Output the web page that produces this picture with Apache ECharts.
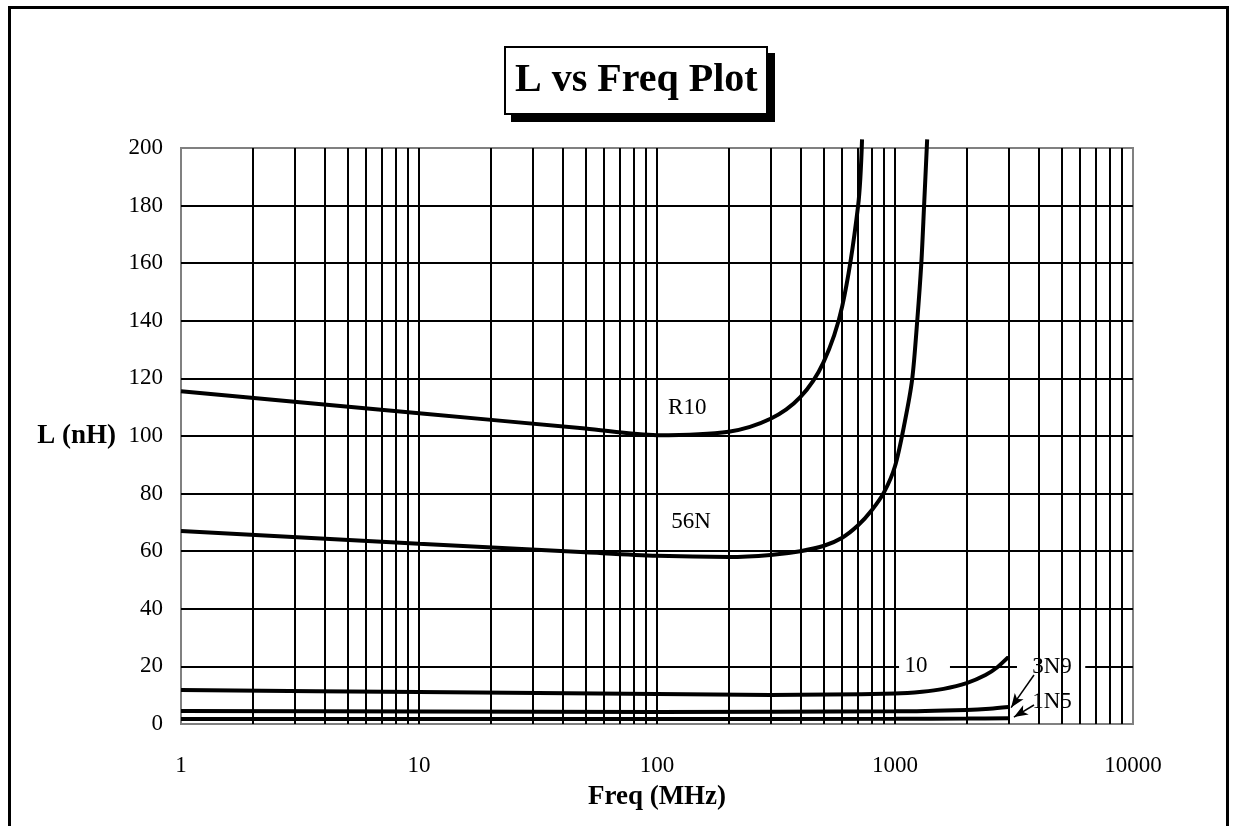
<!DOCTYPE html>
<html>
<head>
<meta charset="utf-8">
<script src="https://cdn.jsdelivr.net/npm/echarts@6/dist/echarts.min.js"></script>
<style>
html,body{margin:0;padding:0;background:#fff;}
#chart{width:1234px;height:826px;}
</style>
</head>
<body>
<div id="chart"></div>
<script>
// ---- data ----
const freqR10 = [1, 10, 50, 100, 200, 300, 400, 500, 600, 700, 727];
const valR10  = [115.5, 107.9, 102.6, 100.3, 101.5, 106, 113.5, 125.5, 145, 180, 203];

const freq56N = [1, 10, 50, 100, 200, 300, 400, 500, 600, 700, 800, 900, 1000, 1100, 1180, 1240, 1290, 1325, 1365];
const val56N  = [67, 62.6, 59.6, 58.4, 58, 58.7, 60, 61.8, 64.7, 69, 74.3, 80.5, 89.5, 105, 119.5, 140, 160, 180, 203];

const freq10 = [1, 10, 100, 300, 1000, 1300, 1600, 2000, 2400, 2700, 3000];
const val10  = [11.8, 11.1, 10.4, 10.1, 10.6, 11.2, 12.2, 14.2, 17, 19.8, 23.3];

const freq3N9 = [1, 10, 100, 1000, 2000, 2500, 3000];
const val3N9  = [4.5, 4.35, 4.2, 4.4, 4.9, 5.3, 5.9];

const freq1N5 = [1, 10, 100, 1000, 2000, 3000];
const val1N5  = [1.7, 1.7, 1.7, 1.8, 1.9, 2.0];

// curve labels: [freq, L, text]
const curveLabels = [[134, 109.7, 'R10'], [139, 70.1, '56N'], [1225, 20.1, '10'], [4570, 19.8, '3N9'], [4570, 7.6, '1N5']];
// arrows: from label to curve end
const arrowFrom = [[3837, 17.0], [3837, 6.6]];
const arrowTo   = [[3075, 5.7], [3160, 2.4]];
// white label boxes [[x1,y1],[x2,y2]]
const labelBoxes = [[[1040, 17.2], [1702, 23.0]], [[3255, 0.6], [6300, 26.4]]];

// axis ticks
const xMin = 1, xMax = 10000;
const yMin = 0, yMax = 200, yStep = 20;
const minorGridX = [2,3,4,5,6,7,8,9, 20,30,40,50,60,70,80,90, 200,300,400,500,600,700,800,900, 2000,3000,4000,5000,6000,7000,8000,9000];

const title = 'L vs Freq Plot';
const xName = 'Freq (MHz)';
const yName = 'L (nH)';

function pairs(xs, ys){ return xs.map((x,i)=>[x, ys[i]]); }

const FONT = 'Liberation Serif';
const chart = echarts.init(document.getElementById('chart'), null, {renderer:'canvas'});

function curve(name, xs, ys){
  return {
    name, type:'line', data: pairs(xs, ys), symbol:'none', clip:false,
    smooth:0.3, z:3, silent:true,
    lineStyle:{color:'#000', width:4}
  };
}

const titleText = {fontFamily:FONT, fontSize:40, fontWeight:'bold', color:'#000', lineHeight:48};
const option = {
  backgroundColor:'#fff',
  animation:false,
  textStyle:{fontFamily:FONT, color:'#000'},
  title:[{
    // drop shadow box
    text:title, left:512, top:54, z:1,
    padding:[10,10,9,10],
    backgroundColor:'#000', borderColor:'#000', borderWidth:2,
    textStyle:Object.assign({}, titleText, {color:'#000'})
  },{
    text:title, left:505, top:47, z:2,
    padding:[10,10,9,10],
    backgroundColor:'#fff', borderColor:'#000', borderWidth:2,
    textStyle:titleText
  }],
  graphic:[{
    type:'rect', left:7, top:5, silent:true,
    shape:{width:1218, height:1000},
    style:{fill:null, stroke:'#000', lineWidth:3}, z:-1
  }],
  grid:{left:181, right:101, top:148, bottom:102, show:true, borderColor:'#808080', borderWidth:2, backgroundColor:'#fff'},
  xAxis:{
    type:'log', logBase:10, min:xMin, max:xMax,
    name:xName, nameLocation:'middle', nameGap:60,
    nameTextStyle:{fontFamily:FONT, fontSize:27, fontWeight:'bold', color:'#000'},
    axisLine:{show:false}, axisTick:{show:false},
    axisLabel:{fontFamily:FONT, fontSize:23, color:'#000', margin:30, formatter:v=>String(Math.round(v))},
    splitLine:{show:true, showMinLine:false, showMaxLine:false, lineStyle:{color:'#000', width:2}}
  },
  yAxis:{
    type:'value', min:yMin, max:yMax, interval:yStep,
    name:yName, nameLocation:'middle', nameRotate:0, nameGap:65,
    nameTextStyle:{fontFamily:FONT, fontSize:27, fontWeight:'bold', color:'#000'},
    axisLine:{show:false}, axisTick:{show:false},
    axisLabel:{fontFamily:FONT, fontSize:23, color:'#000', margin:18},
    splitLine:{show:true, showMinLine:false, showMaxLine:false, lineStyle:{color:'#000', width:2}}
  },
  series:[
    { // minor vertical grid lines
      type:'line', data:[], z:1, silent:true,
      markLine:{silent:true, symbol:['none','none'], label:{show:false},
        lineStyle:{color:'#000', width:2, type:'solid'},
        emphasis:{disabled:true},
        data: minorGridX.map(v=>({xAxis:v}))}
    },
    { // white label boxes
      type:'line', data:[], z:2, silent:true,
      markArea:{silent:true, itemStyle:{color:'#fff', opacity:1},
        emphasis:{disabled:true},
        data: labelBoxes.map(b=>[{coord:b[0]},{coord:b[1]}])}
    },
    curve('R10', freqR10, valR10),
    curve('56N', freq56N, val56N),
    curve('10', freq10, val10),
    curve('3N9', freq3N9, val3N9),
    curve('1N5', freq1N5, val1N5),
    { // arrows
      type:'line', data:[], z:4, silent:true, color:'#000',
      markLine:{silent:true, symbol:['none','arrow'], symbolSize:[8,14], label:{show:false},
        itemStyle:{color:'#000'},
        lineStyle:{color:'#000', width:1.5, type:'solid'},
        emphasis:{disabled:true},
        data: arrowFrom.map((f,i)=>[{coord:f},{coord:arrowTo[i]}])}
    },
    { // curve labels
      type:'scatter', data:curveLabels, symbolSize:0, z:5, silent:true, clip:false,
      itemStyle:{color:'#000', opacity:1},
      label:{show:true, position:[0,0], align:'center', verticalAlign:'middle', formatter:p=>p.data[2],
        fontFamily:FONT, fontSize:23, color:'#000', opacity:1}
    }
  ]
};
chart.setOption(option);
</script>
</body>
</html>
